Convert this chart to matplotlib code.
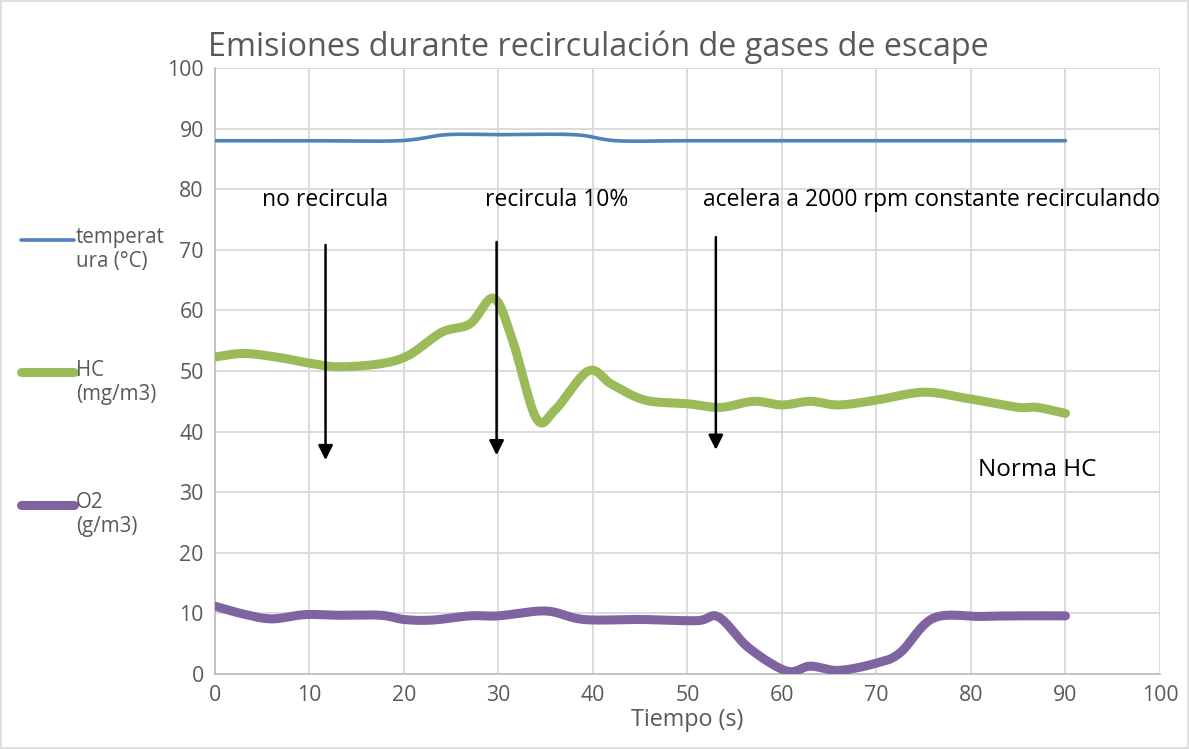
import numpy as np
import matplotlib
matplotlib.use("Agg")
import matplotlib.pyplot as plt
from matplotlib.lines import Line2D
from matplotlib.patches import Rectangle

# ================= DATA =================
temp_t = [0, 10, 19.5, 24.5, 30, 38, 42.5, 50, 60, 70, 80, 90]
temp_v = [88, 88, 88, 89, 89, 89, 88, 88, 88, 88, 88, 88]

hc_t = [0, 3, 6.5, 10, 13, 17.5, 20.5, 24, 27, 29.5, 31.5, 34, 36, 39.5, 42, 45.5,
        50, 53.5, 57, 60, 63, 66, 70, 75, 79.5, 81, 85, 87, 90]
hc_v = [52.3, 52.9, 52.3, 51.3, 50.7, 51.2, 52.6, 56.4, 57.8, 62, 55, 42.2, 43.6, 50, 47.8, 45.2,
        44.6, 44, 45, 44.4, 45, 44.4, 45.2, 46.5, 45.5, 45.1, 44, 44, 43]

o2_t = [0, 3, 6, 9.5, 13, 17.5, 20, 23, 27, 30, 35, 39, 45, 51, 53.3, 56.5,
        60.5, 63, 66, 70, 72.5, 76, 81, 85, 90]
o2_v = [11.2, 9.9, 9.1, 9.8, 9.7, 9.7, 9.0, 8.9, 9.6, 9.6, 10.4, 9.0, 9.0, 8.8, 9.4, 4.3,
        0.5, 1.3, 0.6, 1.8, 3.5, 9.2, 9.5, 9.6, 9.6]

series_labels = ["temperat\nura (°C)", "HC\n(mg/m3)", "O2\n(g/m3)"]
series_colors = ["#4F81BD", "#9BBB59", "#8064A2"]
series_widths = [2.6, 6.5, 6.5]

# arrows: x, y start, y end
arrow_x = [11.7, 29.8, 53.0]
arrow_y0 = [70.8, 71.3, 72.1]
arrow_y1 = [35.3, 36.1, 37.0]

notes = ["no recircula", "recircula 10%", "acelera a 2000 rpm constante recirculando", "Norma HC"]
note_x = [5.0, 28.6, 51.6, 80.7]
note_y = [78.3, 78.3, 78.3, 33.7]
note_size = [16.5, 16.5, 16.5, 17.5]

GREY = "#595959"
plt.rcParams['font.family'] = ['Open Sans', 'DejaVu Sans']


def excel_smooth(x, y, n=24):
    # bezier smoothing like excel "smoothed line"
    x = np.asarray(x, float)
    y = np.asarray(y, float)
    px = np.concatenate([[x[0]], x, [x[-1]]])
    py = np.concatenate([[y[0]], y, [y[-1]]])
    xs, ys = [], []
    s = np.linspace(0, 1, n)
    for i in range(1, len(px) - 2):
        p0 = np.array([px[i], py[i]])
        p3 = np.array([px[i + 1], py[i + 1]])
        p1 = p0 + (np.array([px[i + 1], py[i + 1]]) - np.array([px[i - 1], py[i - 1]])) / 6
        p2 = p3 - (np.array([px[i + 2], py[i + 2]]) - np.array([px[i], py[i]])) / 6
        b = ((1 - s) ** 3)[:, None] * p0 + (3 * (1 - s) ** 2 * s)[:, None] * p1 \
            + (3 * (1 - s) * s ** 2)[:, None] * p2 + (s ** 3)[:, None] * p3
        xs.extend(b[:, 0])
        ys.extend(b[:, 1])
    return xs, ys


fig = plt.figure(figsize=(11.89, 7.49), dpi=100)
ax = fig.add_axes([0.1808, 0.1001, 0.7948, 0.8091])

all_t = [temp_t, hc_t, o2_t]
all_v = [temp_v, hc_v, o2_v]
for t, v, c, w in zip(all_t, all_v, series_colors, series_widths):
    sx, sy = excel_smooth(t, v)
    ax.plot(sx, sy, color=c, lw=w, solid_capstyle="round", solid_joinstyle="round", zorder=3)

for x, y0, y1 in zip(arrow_x, arrow_y0, arrow_y1):
    ax.annotate("", xy=(x, y1), xytext=(x, y0),
                arrowprops=dict(arrowstyle="-|>", color="black", lw=1.8,
                                mutation_scale=22, shrinkA=0, shrinkB=0), zorder=4)

for txt, x, y, fs in zip(notes, note_x, note_y, note_size):
    ax.text(x, y, txt, fontsize=fs, color="black", va="center", ha="left", zorder=5)

ax.set_xlim(0, 100)
ax.set_ylim(0, 100)
ax.set_xticks(np.arange(0, 101, 10))
ax.set_yticks(np.arange(0, 101, 10))
ax.grid(True, color="#D9D9D9", lw=1.3)
ax.set_axisbelow(True)
for side in ["top", "right"]:
    ax.spines[side].set_visible(False)
for side in ["left", "bottom"]:
    ax.spines[side].set_color("#BFBFBF")
    ax.spines[side].set_linewidth(1.3)
ax.tick_params(length=0, labelsize=15.3, labelcolor=GREY, pad=8)
ax.set_xlabel("Tiempo (s)", fontsize=16.8, color=GREY, labelpad=1)
fig.text(0.175, 0.937, "Emisiones durante recirculación de gases de escape",
         fontsize=23.3, color=GREY, ha="left", va="center")

# legend on the left
leg_y = [0.680, 0.503, 0.326]
for lab, c, w, y in zip(series_labels, series_colors, series_widths, leg_y):
    fig.add_artist(Line2D([0.018, 0.062], [y, y], color=c, lw=w,
                          solid_capstyle="round", transform=fig.transFigure))
    fig.text(0.064, y + 0.017, lab, fontsize=14.8, color=GREY, ha="left", va="top",
             linespacing=1.2)

fig.add_artist(Rectangle((0.001, 0.001), 0.998, 0.998, transform=fig.transFigure,
                         fill=False, edgecolor="#D9D9D9", lw=1.2))

fig.savefig("out.png", dpi=100)
